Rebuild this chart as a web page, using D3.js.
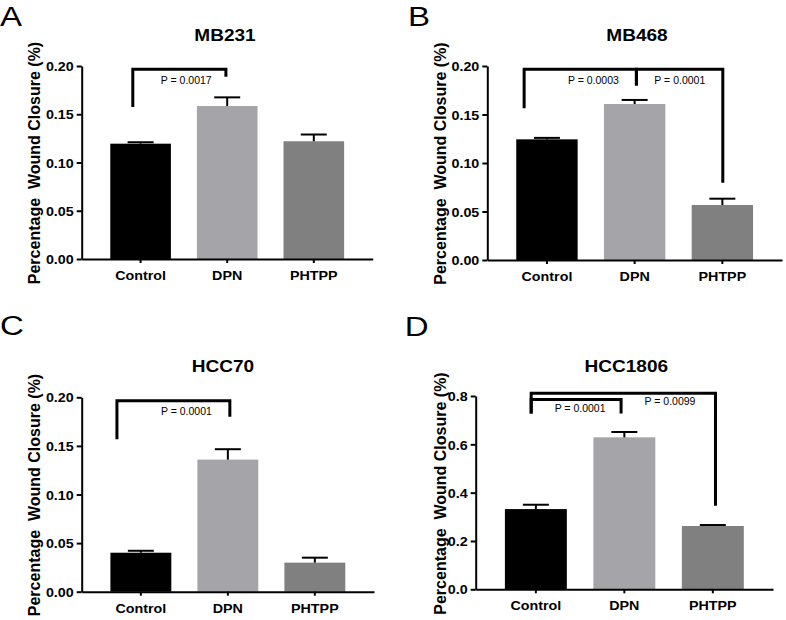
<!DOCTYPE html>
<html>
<head>
<meta charset="utf-8">
<script src="https://cdn.jsdelivr.net/npm/d3@7"></script>
<style>
  html, body { margin: 0; padding: 0; background: #fff; }
  svg { display: block; }
  text { font-family: "Liberation Sans", Arial, Helvetica, sans-serif; fill: #000; }
</style>
</head>
<body>
<svg id="chart" width="786" height="620"></svg>
<script>
// ---------- data ----------
const categories = ["Control", "DPN", "PHTPP"];
const panelLetters = ["A", "B", "C", "D"];
const cellLines = ["MB231", "MB468", "HCC70", "HCC1806"];
const yLabel = "Percentage\u00A0\u00A0Wound Closure (%)";

const mb231Mean = [0.1195, 0.1585, 0.122];
const mb231Err  = [0.0015, 0.009, 0.007];
const mb468Mean = [0.1244, 0.1608, 0.0567];
const mb468Err  = [0.0015, 0.0042, 0.0065];
const hcc70Mean = [0.0401, 0.1359, 0.0299];
const hcc70Err  = [0.0020, 0.0107, 0.0051];
const hcc1806Mean = [0.332, 0.629, 0.262];
const hcc1806Err  = [0.018, 0.022, 0.004];

const ticksSmall = [0, 0.05, 0.10, 0.15, 0.20];
const ticksLarge = [0, 0.2, 0.4, 0.6, 0.8];

// significance brackets (heights in data units, ends in category-index units)
const mb231Brackets = [
  { p: "P = 0.0017", x0: -0.09, x1: 0.985, lx: 0.527, top: 0.1966, end0: 0.1575, end1: 0.1889 }
];
const mb468Brackets = [
  { p: "P = 0.0003", x0: -0.26, x1: 1.02, lx: 0.53, top: 0.1966, end0: 0.1564, end1: 0.180 },
  { p: "P = 0.0001", x0: 1.02, x1: 2.005, lx: 1.515, top: 0.1966, end0: 0.180, end1: 0.0797 }
];
const hcc70Brackets = [
  { p: "P = 0.0001", x0: -0.275, x1: 1.023, lx: 0.524, top: 0.1965, end0: 0.1568, end1: 0.180 }
];
const hcc1806Brackets = [
  { p: "P = 0.0099", x0: -0.053, x1: 2.03, lx: 1.516, top: 0.811, end0: 0.728, end1: 0.346 },
  { p: "P = 0.0001", x0: -0.053, x1: 0.963, lx: 0.50, top: 0.786, end0: 0.728, end1: 0.728 }
];

// ---------- layout (positions only) ----------
const barColors = ["#000000", "#a5a5a9", "#808080"];
const panels = [
  { mean: mb231Mean, err: mb231Err, brackets: mb231Brackets, ticks: ticksSmall, fmt: ".2f",
    ax: 81.7, ar: 372.7, yt: 66, yb: 259, tx: 225, ty: 40.7, lx: 39.5, ly: 163, kx: 0, ky: 26, labelGap: [14.7, 11] },
  { mean: mb468Mean, err: mb468Err, brackets: mb468Brackets, ticks: ticksSmall, fmt: ".2f",
    ax: 487.3, ar: 782, yt: 66, yb: 260, tx: 637, ty: 40.7, lx: 446, ly: 163.5, kx: 408, ky: 26, labelGap: [14.7, 14.7] },
  { mean: hcc70Mean, err: hcc70Err, brackets: hcc70Brackets, ticks: ticksSmall, fmt: ".2f",
    ax: 81.7, ar: 374, yt: 397.3, yb: 591.7, tx: 223, ty: 372.3, lx: 39.5, ly: 495, kx: 0, ky: 335, labelGap: [14.3] },
  { mean: hcc1806Mean, err: hcc1806Err, brackets: hcc1806Brackets, ticks: ticksLarge, fmt: ".1f",
    ax: 475.7, ar: 773, yt: 396, yb: 589.3, tx: 626.3, ty: 371.7, lx: 446, ly: 493.5, kx: 404.7, ky: 336, labelGap: [11.7, 12.4] }
];

const svg = d3.select("#chart");
const SX = 1.12;

function stretchText(sel, k) {
  sel.each(function () {
    const t = d3.select(this);
    const x = +t.attr("x") || 0;
    t.attr("x", x / k).attr("transform", `scale(${k},1)`);
  });
}
function placeText(g, X, Y, str, k) {
  return g.append("text").attr("x", X / k).attr("y", Y)
    .attr("transform", `scale(${k},1)`).text(str);
}

panels.forEach((P, pi) => {
  const g = svg.append("g");
  const x = d3.scaleBand().domain(categories).range([P.ax, P.ar]).paddingInner(0.3).paddingOuter(0.33);
  const ymax = P.ticks[P.ticks.length - 1];
  const y = d3.scaleLinear().domain([0, ymax]).range([P.yb, P.yt]);
  const bw = x.bandwidth();
  const pos = i => x(categories[0]) + bw / 2 + i * x.step();

  // panel letter
  placeText(g, P.kx, P.ky, panelLetters[pi], 1.18)
    .attr("font-size", 28).attr("font-weight", "normal");

  // title
  placeText(g, P.tx, P.ty, cellLines[pi], SX)
    .attr("font-size", 17).attr("font-weight", "bold").attr("text-anchor", "middle");

  // y label
  g.append("text")
    .attr("transform", `translate(${P.lx},${P.ly}) rotate(-90)`)
    .attr("text-anchor", "middle")
    .attr("font-size", 16).attr("font-weight", "bold")
    .style("white-space", "pre")
    .text(yLabel);

  // bars
  g.selectAll("rect.bar").data(P.mean).enter().append("rect")
    .attr("class", "bar")
    .attr("x", (d, i) => x(categories[i]))
    .attr("width", bw)
    .attr("y", d => y(d))
    .attr("height", d => y(0) - y(d))
    .attr("fill", (d, i) => barColors[i]);

  // error bars (upper only)
  P.mean.forEach((m, i) => {
    const cx = x(categories[i]) + bw / 2;
    g.append("line").attr("x1", cx).attr("x2", cx)
      .attr("y1", y(m)).attr("y2", y(m + P.err[i]))
      .attr("stroke", "#000").attr("stroke-width", 2);
    g.append("line").attr("x1", cx - 13).attr("x2", cx + 13)
      .attr("y1", y(m + P.err[i])).attr("y2", y(m + P.err[i]))
      .attr("stroke", "#000").attr("stroke-width", 2);
  });

  // axes
  const yAxis = d3.axisLeft(y).tickValues(P.ticks).tickFormat(d3.format(P.fmt))
    .tickSize(5).tickSizeOuter(0).tickPadding(3);
  const yg = g.append("g").attr("transform", `translate(${P.ax},0)`).call(yAxis);
  const xAxis = d3.axisBottom(x).tickSize(4).tickSizeOuter(0);
  const xg = g.append("g").attr("transform", `translate(0,${P.yb})`).call(xAxis);
  [yg, xg].forEach(a => {
    a.select(".domain").attr("stroke", "#000").attr("stroke-width", 2);
    a.selectAll(".tick line").attr("stroke", "#000").attr("stroke-width", 2);
    a.selectAll(".tick text").attr("fill", "#111")
      .attr("font-family", "Liberation Sans, Arial, sans-serif")
      .attr("font-size", 13).attr("font-weight", "bold");
  });
  yg.selectAll(".tick text").attr("dy", "0.36em");
  xg.selectAll(".tick text").attr("y", 21).attr("dy", 0);
  stretchText(yg.selectAll(".tick text"), 1.1);
  stretchText(xg.selectAll(".tick text"), 1.1);

  // brackets
  P.brackets.forEach((b, bi) => {
    const path = d3.path();
    path.moveTo(pos(b.x0), y(b.end0));
    path.lineTo(pos(b.x0), y(b.top));
    path.lineTo(pos(b.x1), y(b.top));
    path.lineTo(pos(b.x1), y(b.end1));
    g.append("path").attr("d", path.toString())
      .attr("fill", "none").attr("stroke", "#000").attr("stroke-width", 3)
      .attr("stroke-linejoin", "miter");
    g.append("text")
      .attr("x", pos(b.lx)).attr("y", y(b.top) + P.labelGap[bi])
      .attr("text-anchor", "middle").attr("font-size", 10.5)
      .attr("fill", "#111")
      .text(b.p);
  });
});
</script>
</body>
</html>
